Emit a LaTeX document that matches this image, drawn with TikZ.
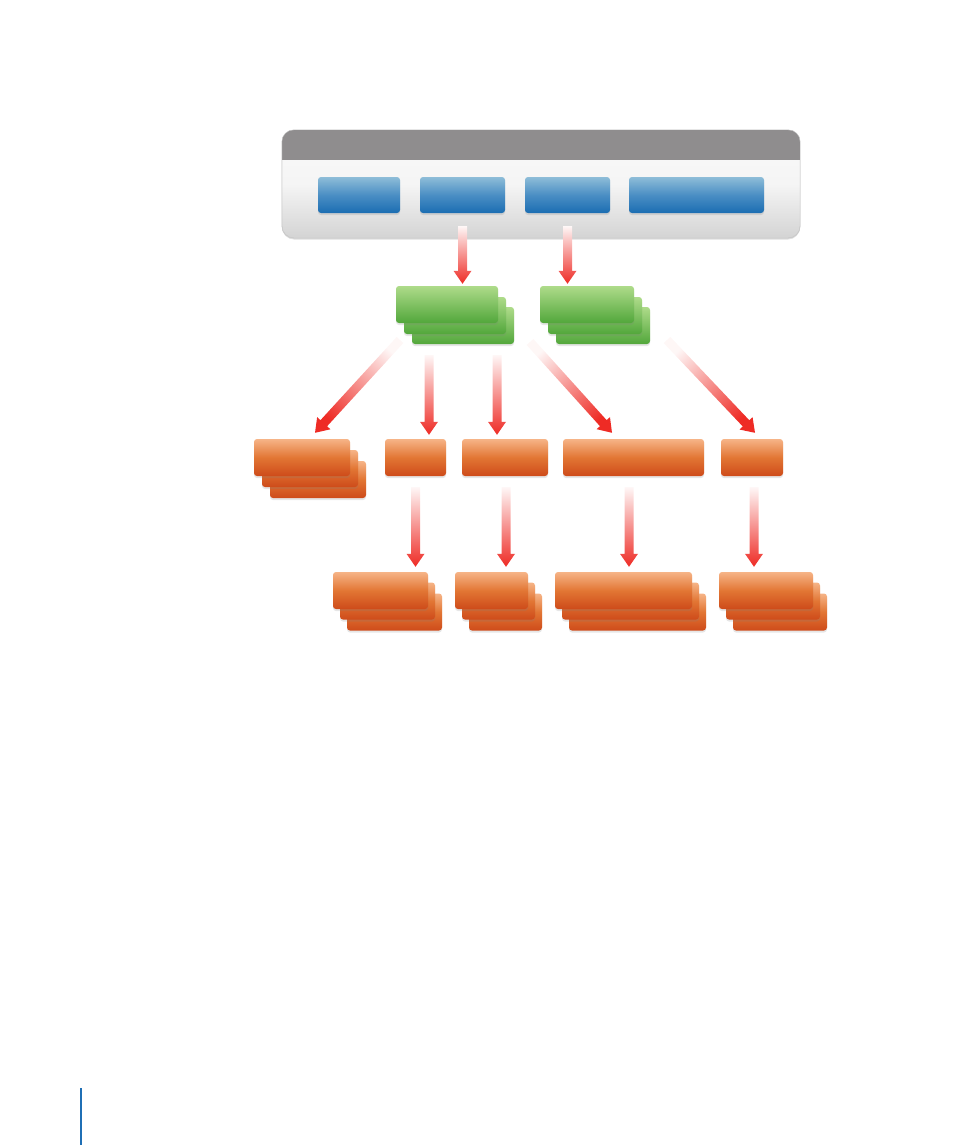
\documentclass[tikz,border=0pt]{standalone}
\usetikzlibrary{calc, shadows}
\definecolor{bluetop}{HTML}{8EBDD8}
\definecolor{bluemid}{HTML}{4A8EC4}
\definecolor{bluebot}{HTML}{1B6DB2}
\definecolor{grntop}{HTML}{AEDB8A}
\definecolor{grnbot}{HTML}{52A73B}
\definecolor{orgtop}{HTML}{F6B487}
\definecolor{orgmid}{HTML}{E27634}
\definecolor{orgbot}{HTML}{CE4B1A}
\definecolor{bargray}{HTML}{8F8D8E}
\definecolor{arrowred}{HTML}{EE2B25}
\definecolor{rulebl}{HTML}{1F6FB5}

% shaded arrow: tail, head, shading angle
\newcommand{\fadearrow}[3]{%
  \coordinate (hb) at ($(#2)!13pt!(#1)$);
  \shade[top color=arrowred!4, bottom color=arrowred, shading angle=#3]
    ($(#1)!4.5pt!90:(#2)$) -- ($(hb)!4.5pt!-90:(#1)$) -- ($(hb)!9pt!-90:(#1)$) -- (#2)
    -- ($(hb)!9pt!90:(#1)$) -- ($(hb)!4.5pt!90:(#1)$) -- ($(#1)!4.5pt!-90:(#2)$) -- cycle;
}

\begin{document}
\begin{tikzpicture}[x=1pt, y=-1pt,
    panel/.style={draw=black!22, rounded corners=12pt, top color=black!2, bottom color=black!17,
      middle color=black!4, minimum width=518pt, minimum height=108pt,
      drop shadow={shadow xshift=0pt, shadow yshift=-1.5pt, opacity=.25}},
    bluebtn/.style={rounded corners=3pt, top color=bluetop, bottom color=bluebot, middle color=bluemid,
      minimum height=36pt, drop shadow={shadow xshift=0pt, shadow yshift=-2pt, opacity=.2}},
    grncard/.style={rounded corners=3pt, top color=grntop, bottom color=grnbot, minimum height=37pt,
      drop shadow={shadow xshift=0pt, shadow yshift=-2pt, opacity=.2}},
    orgcard/.style={rounded corners=3pt, top color=orgtop, bottom color=orgbot, middle color=orgmid,
      minimum height=37pt, drop shadow={shadow xshift=0pt, shadow yshift=-2pt, opacity=.2}}
]
    \useasboundingbox (0,0) rectangle (954,1145);

    % toolbar panel
    \node[panel] (panel) at (541,184) {};
    \begin{scope}
        \clip[rounded corners=12pt] (panel.north west) rectangle (panel.south east);
        \fill[bargray] (panel.north west) rectangle ([yshift=-30pt]panel.north east);
    \end{scope}
    \draw[black!22, rounded corners=12pt] (panel.north west) rectangle (panel.south east);

    \node[bluebtn, minimum width=82pt] (btna) at (359,195) {};
    \node[bluebtn, minimum width=85pt] (btnb) at (462.5,195) {};
    \node[bluebtn, minimum width=85pt] (btnc) at (567.5,195) {};
    \node[bluebtn, minimum width=135pt] (btnd) at (696.5,195) {};

    % green stacks
    \foreach \n/\x/\w in {grA/447/102, grB/587/94} {
        \node[grncard, minimum width=\w pt] (\n3) at (\x+16,325.5) {};
        \node[grncard, minimum width=\w pt] (\n2) at (\x+8,315.5) {};
        \node[grncard, minimum width=\w pt] (\n) at (\x,304.5) {};
    }

    % first orange row
    \node[orgcard, minimum width=96pt] (oa3) at (318,479.5) {};
    \node[orgcard, minimum width=96pt] (oa2) at (310,468.5) {};
    \node[orgcard, minimum width=96pt] (oa) at (302,457.5) {};
    \node[orgcard, minimum width=61pt] (ob) at (415.5,457.5) {};
    \node[orgcard, minimum width=86pt] (oc) at (505,457.5) {};
    \node[orgcard, minimum width=141pt] (od) at (633.5,457.5) {};
    \node[orgcard, minimum width=62pt] (oe) at (752,457.5) {};

    % second orange row
    \foreach \n/\x/\w in {sa/380.5/95, sb/491.5/73, sc/623.5/137, sd/766/94} {
        \node[orgcard, minimum width=\w pt] (\n3) at (\x+14,612) {};
        \node[orgcard, minimum width=\w pt] (\n2) at (\x+7,601) {};
        \node[orgcard, minimum width=\w pt] (\n) at (\x,590.5) {};
    }

    % arrow ends
    \coordinate (pb) at ([yshift=-13pt]btnb.south);
    \coordinate (pc) at ([yshift=-13pt]btnc.south);
    \coordinate (gab) at ($(btnb.south |- grA.north)+(0,-2)$);
    \coordinate (gbc) at ($(btnc.south |- grB.north)+(0,-2)$);
    \coordinate (ga1) at (400,340);
    \coordinate (ga2) at (429,355);
    \coordinate (ga3) at (497,355);
    \coordinate (ga4) at (530,342);
    \coordinate (gb1) at (667,340);
    \coordinate (oan) at ($(oa.north)+(13,-6)$);
    \coordinate (obn) at ($(ob.north)+(13.5,-4)$);
    \coordinate (ocn) at ($(oc.north)+(-8,-4)$);
    \coordinate (odn) at ($(od.north)+(-21.5,-6)$);
    \coordinate (oen) at ($(oe.north)+(3,-6)$);
    \coordinate (obs) at ($(ob.south)+(0,11)$);
    \coordinate (ocs) at ($(oc.south)+(1,11)$);
    \coordinate (ods) at ($(od.south)+(-4.5,11)$);
    \coordinate (oes) at ($(oe.south)+(2,11)$);
    \coordinate (san) at ($(obs |- sa.north)+(0,-5)$);
    \coordinate (sbn) at ($(ocs |- sb.north)+(0,-5)$);
    \coordinate (scn) at ($(ods |- sc.north)+(0,-5)$);
    \coordinate (sdn) at ($(oes |- sd.north)+(0,-5)$);

    % arrows
    \fadearrow{pb}{gab}{0}
    \fadearrow{pc}{gbc}{0}
    \fadearrow{ga1}{oan}{-42}
    \fadearrow{ga2}{obn}{0}
    \fadearrow{ga3}{ocn}{0}
    \fadearrow{ga4}{odn}{42}
    \fadearrow{gb1}{oen}{43}
    \fadearrow{obs}{san}{0}
    \fadearrow{ocs}{sbn}{0}
    \fadearrow{ods}{scn}{0}
    \fadearrow{oes}{sdn}{0}

    % margin rule
    \draw[rulebl, line width=1.5pt] (81,1088) -- (81,1145);
\end{tikzpicture}
\end{document}
